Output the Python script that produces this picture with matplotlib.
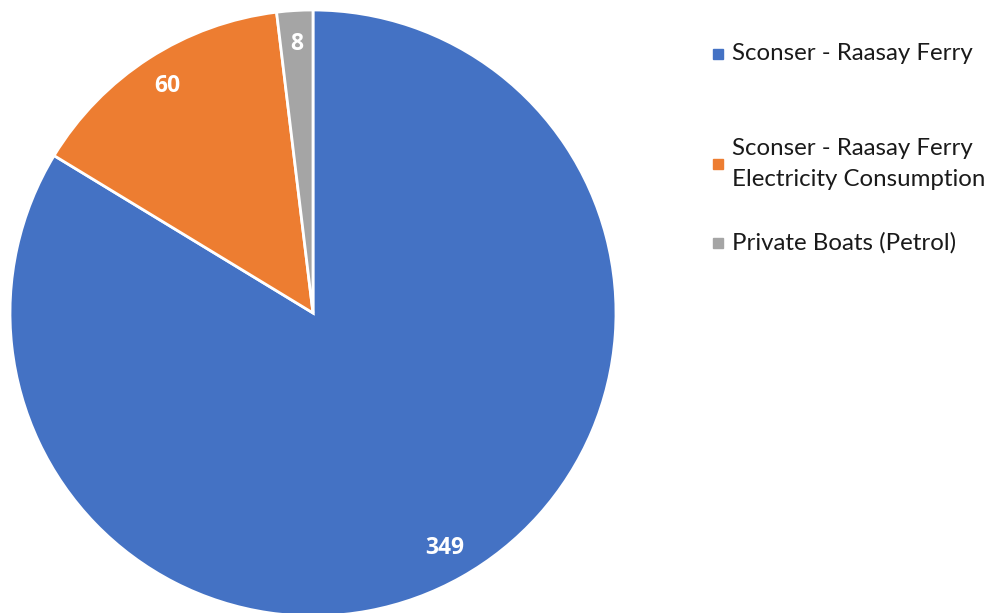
import matplotlib.pyplot as plt
from matplotlib.patches import Rectangle

plt.rcParams['font.family'] = ['Lato', 'DejaVu Sans']

labels = ['Sconser - Raasay Ferry',
          'Sconser - Raasay Ferry\nElectricity Consumption',
          'Private Boats (Petrol)']
values = [349, 60, 8]
colors = ['#4472C4', '#ED7D31', '#A5A5A5']

fig = plt.figure(figsize=(9.92, 6.13), dpi=100)
ax = fig.add_axes([10 / 992, -3 / 613, 606 / 992, 606 / 613])

wedges, texts, autotexts = ax.pie(
    values, colors=colors, startangle=90, counterclock=False, radius=1,
    wedgeprops=dict(edgecolor='white', linewidth=2),
    autopct=lambda p: '%d' % round(p * sum(values) / 100),
    pctdistance=0.89,
    textprops=dict(color='white', fontsize=16.5, fontweight='bold',
                   family=['Open Sans', 'DejaVu Sans']))
ax.set_xlim(-1, 1)
ax.set_ylim(-1, 1)
ax.set_aspect('equal')

# legend drawn by hand, Excel-style spacing
leg_y = [54, 164, 243]
for lab, col, y in zip(labels, colors, leg_y):
    fy = 1 - y / 613
    fig.patches.append(Rectangle((713 / 992, fy - 5 / 613), 10 / 992, 10 / 613,
                                 transform=fig.transFigure, color=col))
    fig.text(732 / 992, fy, lab, va='center', ha='left', fontsize=17.3,
             color='#1a1a1a', linespacing=1.6)

fig.savefig('out.png', dpi=100)
